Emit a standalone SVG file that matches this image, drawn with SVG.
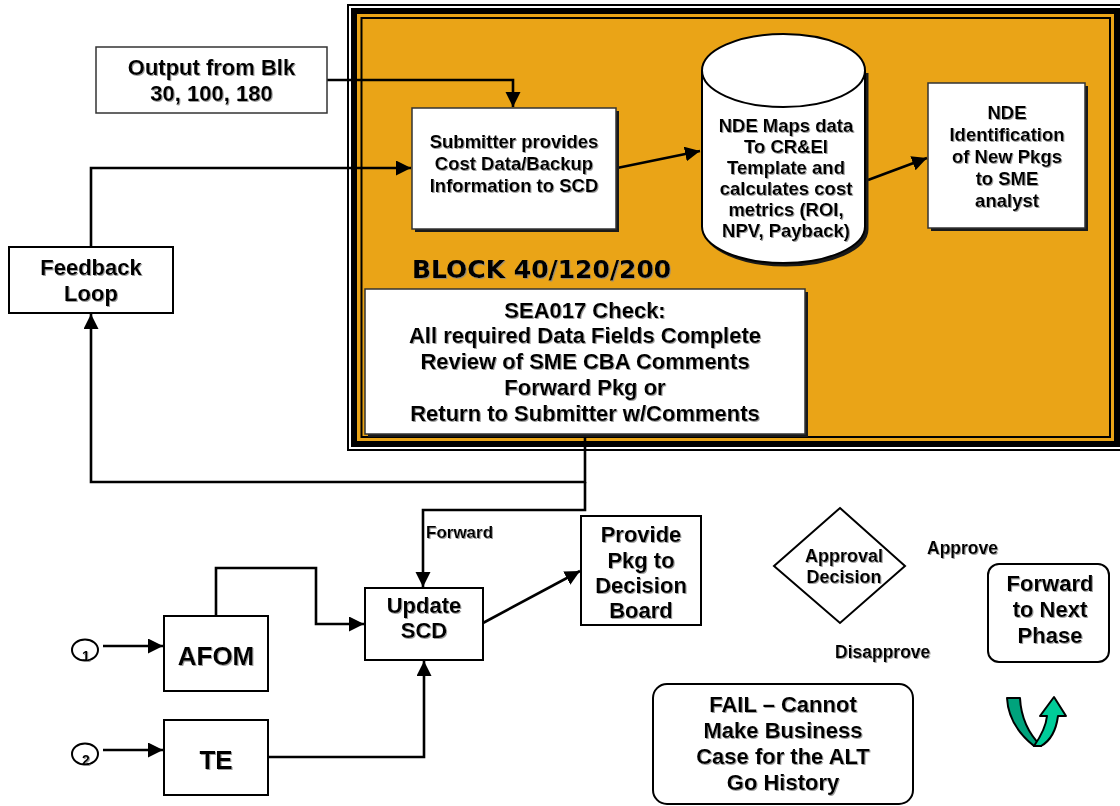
<svg xmlns="http://www.w3.org/2000/svg" width="1120" height="806" viewBox="0 0 1120 806">
<defs>
<style>
.t{font-family:"Liberation Sans",Arial,sans-serif;font-weight:bold;fill:#000;text-anchor:middle;filter:url(#ts)}
.s{text-anchor:start}
.box{fill:#fff;stroke:#000;stroke-width:2}
.sbox{fill:#fff;stroke:#333;stroke-width:1.5}
.shd{fill:#1a1a1a}
.ln{fill:none;stroke:#000;stroke-width:2.6}
.arr{marker-end:url(#ah)}
</style>
<marker id="ah" markerUnits="userSpaceOnUse" markerWidth="16" markerHeight="16" refX="15" refY="7.5" orient="auto">
<path d="M0,0 L15,7.5 L0,15 Z" fill="#000"/>
</marker>
<filter id="ts" x="-5%" y="-20%" width="115%" height="150%">
<feDropShadow dx="1" dy="1" stdDeviation="0.4" flood-color="#888" flood-opacity="0.8"/>
</filter>
</defs>

<g id="block-frame">
<rect x="348" y="5" width="800" height="445" fill="none" stroke="#000" stroke-width="2"/>
<rect x="354" y="11" width="763" height="433" fill="#EAA417" stroke="#000" stroke-width="6"/>
<rect x="361.5" y="18" width="748.5" height="419" fill="#EAA417" stroke="#000" stroke-width="2"/>
<text x="412" y="278" style="font-family:'DejaVu Sans',Verdana,sans-serif;font-weight:bold;font-size:25px;fill:#000;filter:url(#ts)">BLOCK 40/120/200</text>
</g>

<g id="connectors">
<path class="ln arr" d="M327,80 H513 V107"/>
<path class="ln arr" d="M91,247 V168 H411"/>
<path class="ln arr" d="M617,168 L700,151"/>
<path class="ln arr" d="M868,180 L927,158"/>
<path class="ln arr" d="M585,434 V482 H91 V314"/>
<path class="ln arr" d="M585,482 V510 H423 V587"/>
<path class="ln arr" d="M483,623 L580,571"/>
<path class="ln arr" d="M216,616 V568 H316 V624 H364"/>
<path class="ln arr" d="M268,757 H424 V661"/>
<path class="ln arr" d="M103,646 H163"/>
<path class="ln arr" d="M103,750 H163"/>
</g>

<g id="output-blk">
<rect x="96" y="47" width="231" height="66" class="sbox" stroke="#222"/>
<text class="t" x="211.5" y="75" font-size="22">Output from Blk</text>
<text class="t" x="211.5" y="101" font-size="22">30, 100, 180</text>
</g>

<g id="feedback-loop">
<rect x="9" y="247" width="164" height="66" class="box"/>
<text class="t" x="91" y="275" font-size="22">Feedback</text>
<text class="t" x="91" y="301" font-size="22">Loop</text>
</g>

<g id="submitter">
<rect x="415" y="111" width="204" height="121" class="shd"/>
<rect x="412" y="108" width="204" height="121" class="sbox"/>
<text class="t" x="514" y="148" font-size="18.5">Submitter provides</text>
<text class="t" x="514" y="170" font-size="18.5">Cost Data/Backup</text>
<text class="t" x="514" y="191.5" font-size="18.5">Information to SCD</text>
</g>

<g id="nde-maps">
<path d="M704.5,73 V229 A81.5,36.5 0 0 0 867.5,229 V73" fill="#1a1a1a" stroke="#1a1a1a" stroke-width="2"/>
<path d="M702,70.5 V226.5 A81.5,36.5 0 0 0 865,226.5 V70.5 A81.5,36.5 0 0 0 702,70.5 Z" fill="#fff" stroke="#000" stroke-width="2"/>
<path d="M702,70.5 A81.5,36.5 0 0 0 865,70.5" fill="none" stroke="#000" stroke-width="2"/>
<text class="t" x="786" y="132" font-size="18.5">NDE Maps data</text>
<text class="t" x="786" y="153" font-size="18.5">To CR&amp;EI</text>
<text class="t" x="786" y="174" font-size="18.5">Template and</text>
<text class="t" x="786" y="195" font-size="18.5">calculates cost</text>
<text class="t" x="786" y="216" font-size="18.5">metrics (ROI,</text>
<text class="t" x="786" y="237" font-size="18.5">NPV, Payback)</text>
</g>

<g id="nde-identification">
<rect x="931" y="86" width="157" height="145" class="shd"/>
<rect x="928" y="83" width="157" height="145" class="sbox"/>
<text class="t" x="1007" y="119" font-size="18.5">NDE</text>
<text class="t" x="1007" y="141" font-size="18.5">Identification</text>
<text class="t" x="1007" y="163" font-size="18.5">of New Pkgs</text>
<text class="t" x="1007" y="185" font-size="18.5">to SME</text>
<text class="t" x="1007" y="206.5" font-size="18.5">analyst</text>
</g>

<g id="sea017-check">
<rect x="368" y="292" width="440" height="145" class="shd"/>
<rect x="365" y="289" width="440" height="145" class="sbox"/>
<text class="t" x="585" y="318" font-size="22">SEA017 Check:</text>
<text class="t" x="585" y="343" font-size="22">All required Data Fields Complete</text>
<text class="t" x="585" y="369" font-size="22">Review of SME CBA Comments</text>
<text class="t" x="585" y="395" font-size="22">Forward Pkg or</text>
<text class="t" x="585" y="421" font-size="22">Return to Submitter w/Comments</text>
</g>

<g id="forward-label">
<text class="t s" x="426" y="538" font-size="17">Forward</text>
</g>

<g id="update-scd">
<rect x="365" y="588" width="118" height="72" class="box"/>
<text class="t" x="424" y="613" font-size="22">Update</text>
<text class="t" x="424" y="638" font-size="22">SCD</text>
</g>

<g id="provide-pkg">
<rect x="581" y="516" width="120" height="109" class="box"/>
<text class="t" x="641" y="542" font-size="22">Provide</text>
<text class="t" x="641" y="568" font-size="22">Pkg to</text>
<text class="t" x="641" y="593" font-size="22">Decision</text>
<text class="t" x="641" y="618" font-size="22">Board</text>
</g>

<g id="afom">
<rect x="164" y="616" width="104" height="75" class="box"/>
<text class="t" x="216" y="665" font-size="26">AFOM</text>
</g>

<g id="te">
<rect x="164" y="720" width="104" height="75" class="box"/>
<text class="t" x="216" y="769" font-size="26">TE</text>
</g>

<g id="input-1">
<ellipse cx="85" cy="650" rx="13" ry="10.5" fill="#fff" stroke="#000" stroke-width="2"/>
<text class="t" x="86" y="661" font-size="14">1</text>
</g>

<g id="input-2">
<ellipse cx="85" cy="754" rx="13" ry="10.5" fill="#fff" stroke="#000" stroke-width="2"/>
<text class="t" x="86" y="765" font-size="14">2</text>
</g>

<g id="approval-decision">
<path d="M840,508 L905,566 L840,623 L774,566 Z" fill="#fff" stroke="#000" stroke-width="2"/>
<text class="t" x="844" y="562" font-size="18">Approval</text>
<text class="t" x="844" y="583" font-size="18">Decision</text>
</g>

<g id="approve-label">
<text class="t s" x="927" y="554" font-size="17.5">Approve</text>
</g>

<g id="disapprove-label">
<text class="t s" x="835" y="658" font-size="17.5">Disapprove</text>
</g>

<g id="forward-next-phase">
<rect x="988" y="564" width="121" height="98" rx="11" ry="11" class="box"/>
<text class="t" x="1050" y="591" font-size="22">Forward</text>
<text class="t" x="1050" y="617" font-size="22">to Next</text>
<text class="t" x="1050" y="643" font-size="22">Phase</text>
</g>

<g id="fail">
<rect x="653" y="684" width="260" height="120" rx="14" ry="14" class="box"/>
<text class="t" x="783" y="712" font-size="22">FAIL – Cannot</text>
<text class="t" x="783" y="738" font-size="22">Make Business</text>
<text class="t" x="783" y="764" font-size="22">Case for the ALT</text>
<text class="t" x="783" y="790" font-size="22">Go History</text>
</g>

<g id="u-turn-arrow">
<path d="M1007,698 L1020,698 C1021,718 1029,734 1041,746 L1034,746 C1019,734 1008,718 1007,698 Z" fill="#00A37C" stroke="#000" stroke-width="2" stroke-linejoin="round"/>
<path d="M1034,746 C1041,736 1046,726 1047,716 L1040,716 L1054,697 L1066,716 L1058,716 C1056,731 1050,741 1041,746 Z" fill="#00CC99" stroke="#000" stroke-width="2" stroke-linejoin="round"/>
</g>
</svg>
